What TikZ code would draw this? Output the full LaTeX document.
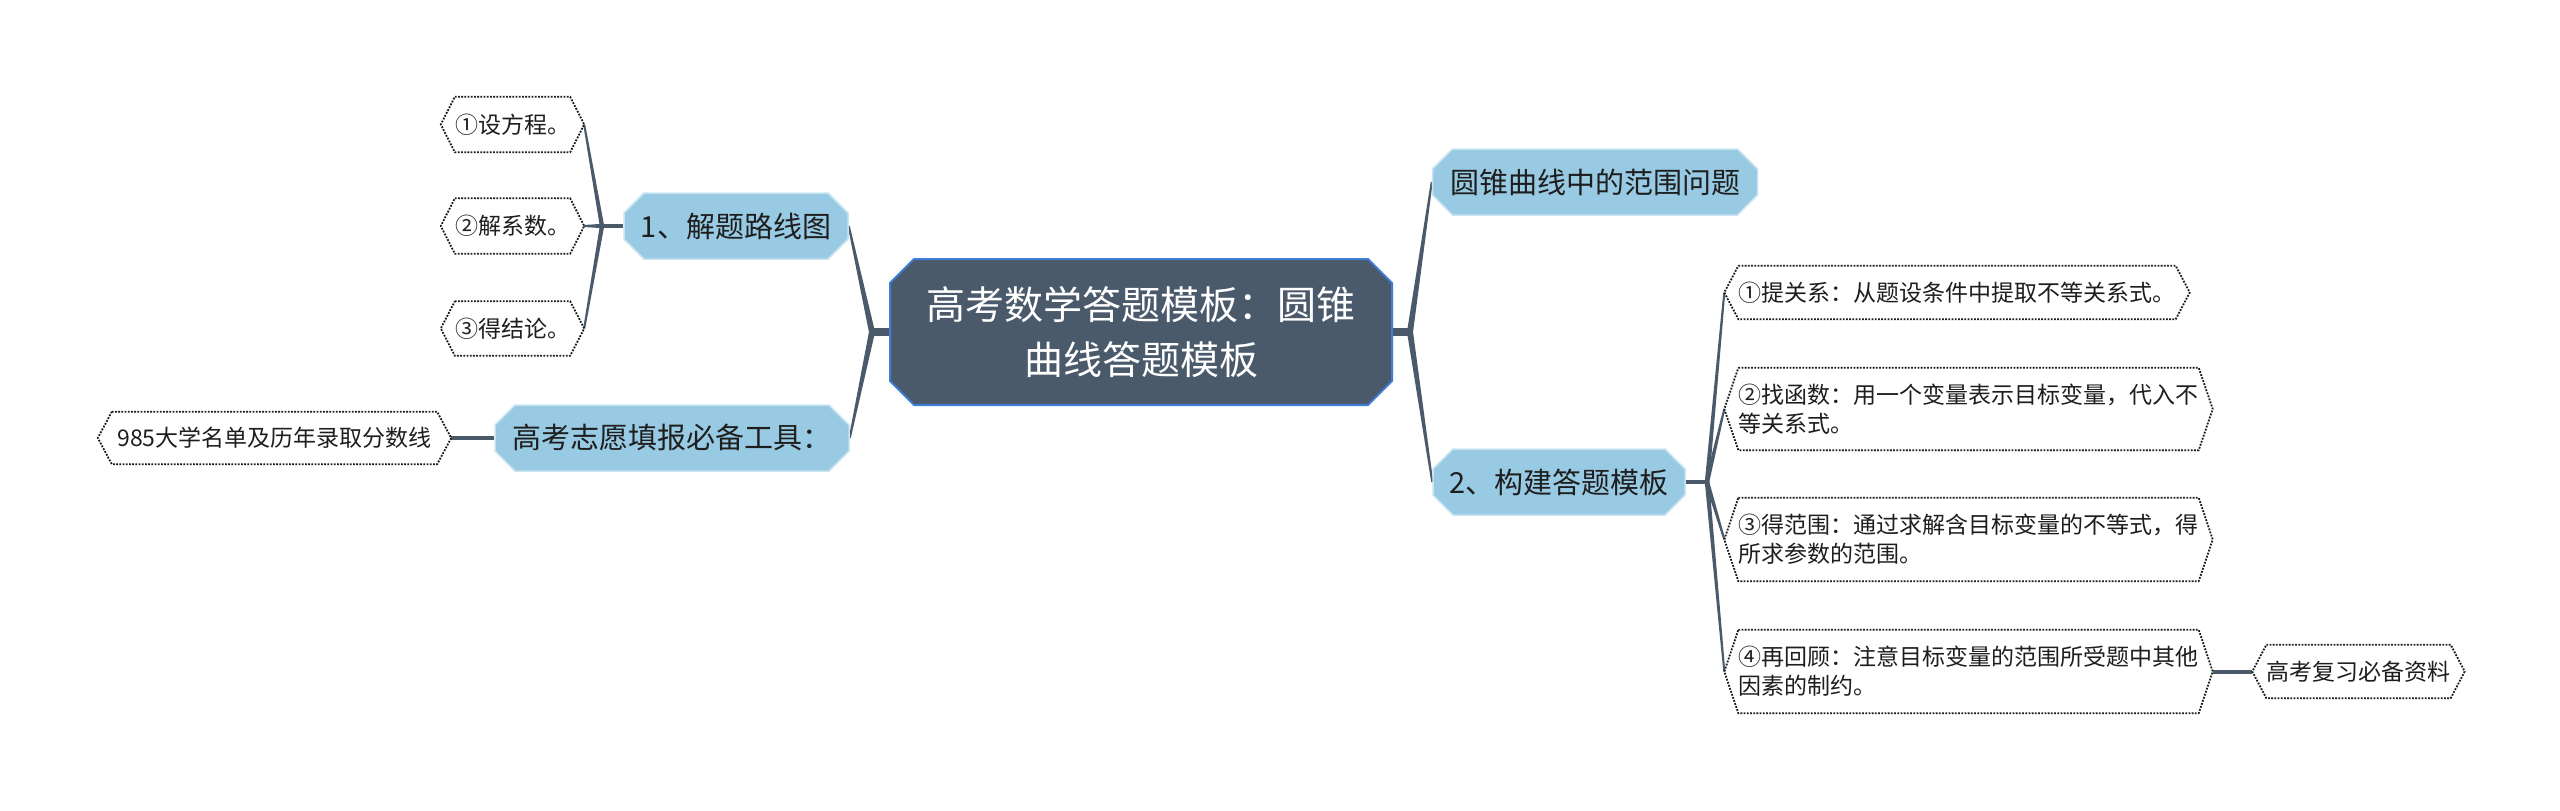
\documentclass[tikz,border=0pt]{standalone}
\usepackage{fontspec}
\newfontfamily\cjk{Noto Sans CJK SC}
\usetikzlibrary{shapes.misc,calc}
\definecolor{rootfill}{HTML}{4B5A6B}
\definecolor{rootline}{HTML}{3F7DD6}
\definecolor{topfill}{HTML}{98CAE3}
\definecolor{topline}{HTML}{C8E4F1}
\definecolor{conn}{HTML}{4B5A6B}
\definecolor{leafline}{HTML}{1A1A1A}
\definecolor{txt}{HTML}{1E1E1E}
\pgfdeclarelayer{bg}
\pgfsetlayers{bg,main}
\newcommand\mmtaper[4]{\fill[conn] ($(#1)!#3!90:(#2)$) -- ($(#2)!#4!-90:(#1)$) -- ($(#2)!#4!90:(#1)$) -- ($(#1)!#3!-90:(#2)$) -- cycle;}
\tikzset{
  rootbox/.style={chamfered rectangle, chamfered rectangle xsep=12pt, chamfered rectangle ysep=12pt,
    fill=rootfill, draw=rootline, line width=2pt, text=white,
    font=\cjk\fontsize{39pt}{55pt}\selectfont, align=center, inner sep=0pt},
  topbox/.style={chamfered rectangle, chamfered rectangle xsep=10pt, chamfered rectangle ysep=10pt,
    fill=topfill, draw=topline, line width=1.5pt, text=txt,
    font=\cjk\fontsize{29pt}{36pt}\selectfont, inner sep=0pt, minimum height=66pt},
  leafbox/.style={inner sep=0pt, text=txt, font=\cjk\fontsize{23pt}{29pt}\selectfont, align=left},
  leafedge/.style={draw=leafline, line width=1.8pt, dash pattern=on 1.8pt off 1.4pt, line join=miter},
  stub/.style={draw=conn, line width=#1},
}
\begin{document}
\begin{tikzpicture}[x=1pt,y=-1pt]
\begin{pgfonlayer}{bg}
\fill[white] (0,0) rectangle (2560,811);
\end{pgfonlayer}
\useasboundingbox (0,0) rectangle (2560,811);

% root and main topics
\node[rootbox, minimum width=502pt, minimum height=146pt] (root) at (1141,332) {高考数学答题模板：圆锥\\曲线答题模板};
\node[topbox, minimum width=224pt] (A) at (736,226) {1、解题路线图};
\node[topbox, minimum width=354pt] (B) at (672,438) {高考志愿填报必备工具：};
\node[topbox, minimum width=325pt] (C) at (1595,182) {圆锥曲线中的范围问题};
\node[topbox, minimum width=252pt] (D) at (1559,482) {2、构建答题模板};

% leaves
\node[leafbox, minimum width=111pt, minimum height=55pt] (a1) at (512.5,124.5) {①设方程。};
\node[leafbox, minimum width=111pt, minimum height=55pt] (a2) at (512.5,226) {②解系数。};
\node[leafbox, minimum width=111pt, minimum height=54pt] (a3) at (512.5,328.5) {③得结论。};
\node[leafbox, minimum width=325pt, minimum height=52pt] (b1) at (274.5,438) {985大学名单及历年录取分数线};
\node[leafbox, minimum width=432pt, minimum height=53pt] (d1) at (1957,292.5) {①提关系：从题设条件中提取不等关系式。};
\node[leafbox, text width=460pt, minimum height=82pt] (d2) at (1968.5,409) {②找函数：用一个变量表示目标变量，代入不\\等关系式。};
\node[leafbox, text width=460pt, minimum height=83pt] (d3) at (1968.5,539.5) {③得范围：通过求解含目标变量的不等式，得\\所求参数的范围。};
\node[leafbox, text width=460pt, minimum height=83pt] (d4) at (1968.5,671.5) {④再回顾：注意目标变量的范围所受题中其他\\因素的制约。};
\node[leafbox, minimum width=177pt, minimum height=53pt] (e1) at (2358.5,671.5) {高考复习必备资料};

\foreach \n in {a1,a2,a3,b1,d1,d2,d3,d4,e1}{
  \draw[leafedge] (\n.north west) -- (\n.north east) -- ([xshift=14pt]\n.east) -- (\n.south east)
    -- (\n.south west) -- ([xshift=-14pt]\n.west) -- cycle;
  \coordinate (\n e) at ([xshift=14pt]\n.east);
  \coordinate (\n w) at ([xshift=-14pt]\n.west);
}

% junctions
\coordinate (JL) at (872,332);
\coordinate (JR) at (1410,332);
\coordinate (JA) at (602,226);
\coordinate (JD) at (1707,482);

\begin{pgfonlayer}{bg}
\draw[stub=8pt] (root.west) -- (JL);
\draw[stub=8pt] (root.east) -- (JR);
\mmtaper{JL}{A.east}{3pt}{1pt}
\mmtaper{JL}{B.east}{3pt}{1pt}
\mmtaper{JR}{C.west}{3pt}{1pt}
\mmtaper{JR}{D.west}{3pt}{1pt}
\draw[stub=4pt] (A.west) -- (JA);
\mmtaper{JA}{a1e}{2.2pt}{1pt}
\mmtaper{JA}{a2e}{2.2pt}{1pt}
\mmtaper{JA}{a3e}{2.2pt}{1pt}
\draw[stub=4pt] (B.west) -- (b1e);
\draw[stub=4pt] (D.east) -- (JD);
\mmtaper{JD}{d1w}{2.2pt}{1pt}
\mmtaper{JD}{d2w}{2.2pt}{1pt}
\mmtaper{JD}{d3w}{2.2pt}{1pt}
\mmtaper{JD}{d4w}{2.2pt}{1pt}
\draw[stub=4pt] (d4e) -- (e1w);
\end{pgfonlayer}
\end{tikzpicture}
\end{document}
